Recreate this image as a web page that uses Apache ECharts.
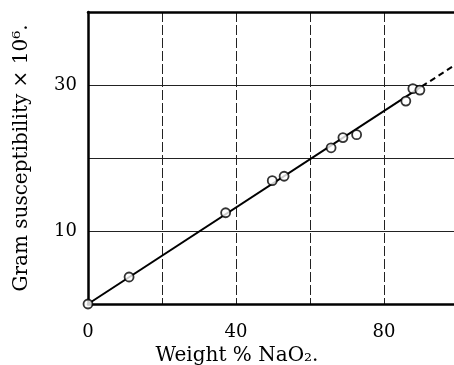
<!DOCTYPE html>
<html><head><meta charset="utf-8">
<script src="https://cdn.jsdelivr.net/npm/echarts@6/dist/echarts.min.js"></script>
<style>html,body{margin:0;padding:0;background:#fff}#c{width:454px;height:365px}</style>
</head><body><div id="c"></div>
<script>
// Measured points: weight % NaO2 vs gram susceptibility x 10^6
const weightPct = [0, 11.1, 37.2, 49.8, 53.0, 65.7, 68.9, 72.6, 85.9, 87.8, 89.7];
const susceptibility = [0, 3.7, 12.5, 16.9, 17.5, 21.4, 22.8, 23.2, 27.8, 29.5, 29.3];
// Fitted line (solid part and dashed extrapolation)
const fitSolidX = [0, 90.2];
const fitSolidY = [0, 29.8];
const fitDashX = [90.2, 100];
const fitDashY = [29.8, 33.0];
const xTickLabels = [0, 40, 80];
const yTickLabels = [10, 30];

const font = '"DejaVu Serif", "Liberation Serif", serif';
const chart = echarts.init(document.getElementById('c'), null, {renderer: 'canvas'});
chart.setOption({
  animation: false,
  backgroundColor: '#fff',
  grid: {left: 88, top: 12, width: 370, bottom: 61, containLabel: false, outerBoundsMode: 'none'},
  xAxis: [{
    type: 'value', min: 0, max: 100, interval: 20, position: 'bottom',
    name: 'Weight % NaO₂.', nameLocation: 'middle', nameGap: 40,
    nameTextStyle: {fontFamily: font, fontSize: 20, color: '#000', padding: [0, 72, 0, 0]},
    axisLine: {show: true, onZero: false, lineStyle: {color: '#000', width: 2.5}},
    axisTick: {show: false},
    axisLabel: {fontFamily: font, fontSize: 18, color: '#000', margin: 19,
      formatter: v => xTickLabels.includes(v) ? String(v) : ''},
    splitLine: {show: true, lineStyle: {color: '#222', width: 1, type: [10, 3]}}
  }, {
    type: 'value', min: 0, max: 100, interval: 20, position: 'top',
    axisLine: {show: true, onZero: false, lineStyle: {color: '#000', width: 2.5}},
    axisTick: {show: false}, axisLabel: {show: false}, splitLine: {show: false}
  }],
  yAxis: {
    type: 'value', min: 0, max: 40, interval: 10,
    name: 'Gram susceptibility × 10⁶.', nameLocation: 'middle', nameGap: 56, nameRotate: 90,
    nameTextStyle: {fontFamily: font, fontSize: 20, color: '#000'},
    axisLine: {show: true, onZero: false, lineStyle: {color: '#000', width: 2.5}},
    axisTick: {show: false},
    axisLabel: {fontFamily: font, fontSize: 18, color: '#000', margin: 11,
      formatter: v => yTickLabels.includes(v) ? String(v) : ''},
    splitLine: {show: true, lineStyle: {color: '#222', width: 1}}
  },
  series: [{
    type: 'line', data: fitSolidX.map((x, i) => [x, fitSolidY[i]]),
    symbol: 'none', lineStyle: {color: '#000', width: 2}, z: 3
  }, {
    type: 'line', data: fitDashX.map((x, i) => [x, fitDashY[i]]),
    symbol: 'none', lineStyle: {color: '#000', width: 2, type: [6, 4]}, z: 3
  }, {
    type: 'scatter', data: weightPct.map((x, i) => [x, susceptibility[i]]),
    symbol: 'circle', symbolSize: 9,
    itemStyle: {color: '#fff', borderColor: '#000', borderWidth: 1.8}, z: 5
  }]
});
</script></body></html>
